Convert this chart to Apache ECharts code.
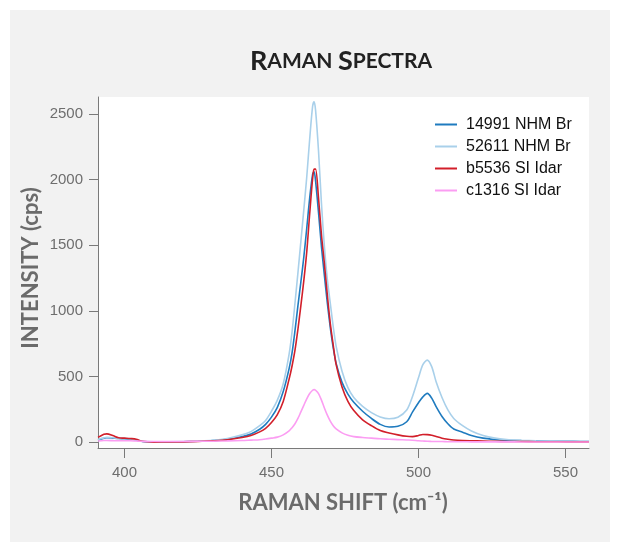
<!DOCTYPE html>
<html>
<head>
<meta charset="utf-8">
<script src="https://cdn.jsdelivr.net/npm/echarts@6/dist/echarts.min.js"></script>
<style>
  html, body { margin: 0; padding: 0; background: #fff; }
  #main { width: 620px; height: 552px; }
</style>
</head>
<body>
<div id="main"></div>
<script>
// raman shift (cm-1), shared by all spectra
const shift = [391, 393, 394, 396, 398, 400, 402, 404, 406, 410, 415, 420, 425, 430, 435, 440, 443, 446, 448, 450,
  452, 454, 456, 457, 458, 459, 460, 461, 462, 463, 464, 464.5, 465, 466, 467, 468, 469, 470, 471, 472,
  474, 476, 478, 481, 484, 487, 490, 493, 496, 498, 500, 501.5, 503, 504.5, 506, 508, 510, 512, 515, 518,
  522, 526, 530, 535, 540, 545, 550, 555, 558];

const nhm14991 = [15, 30, 33, 30, 27, 25, 24, 16, 5, 2, 2, 3, 6, 11, 22, 42, 62, 98, 135, 190,
  265, 385, 560, 680, 850, 1040, 1220, 1410, 1630, 1860, 2040, 2060, 1990, 1750, 1490, 1270, 1060, 875, 720, 600,
  455, 365, 303, 235, 180, 135, 115, 120, 155, 230, 300, 345, 371, 335, 270, 195, 140, 100, 75, 50,
  30, 20, 14, 11, 9, 7, 6, 5, 4];

const nhm52611 = [20, 32, 36, 33, 30, 28, 26, 18, 6, 3, 3, 4, 8, 14, 28, 55, 80, 125, 165, 235,
  320, 445, 670, 840, 1060, 1290, 1530, 1770, 2020, 2310, 2560, 2594, 2530, 2220, 1820, 1490, 1240, 1060, 880, 730,
  540, 415, 340, 272, 225, 192, 178, 190, 244, 350, 490, 590, 625, 575, 460, 340, 245, 180, 125, 85,
  50, 30, 20, 14, 10, 8, 6, 5, 4];

const idar5536 = [36, 60, 63, 50, 33, 30, 27, 22, 6, 0, 1, 2, 5, 10, 18, 35, 50, 78, 105, 150,
  210, 310, 480, 580, 700, 860, 1040, 1230, 1450, 1740, 2010, 2080, 2080, 1860, 1580, 1360, 1120, 905, 740, 590,
  420, 310, 240, 170, 125, 88, 70, 55, 44, 42, 50, 58, 57, 52, 42, 30, 22, 16, 12, 10,
  8, 6, 5, 4, 3, 3, 2, 2, 2];

const idar1316 = [8, 12, 12, 11, 10, 10, 10, 8, 6, 4, 4, 5, 6, 7, 9, 12, 15, 18, 23, 30,
  38, 55, 85, 110, 140, 180, 230, 280, 330, 370, 395, 400, 395, 370, 320, 260, 205, 160, 125, 100,
  70, 52, 42, 35, 30, 25, 22, 19, 16, 14, 10, 8, 6, 5, 4, 4, 3, 3, 3, 2,
  2, 2, 2, 1, 1, 1, 1, 1, 1];

const seriesNames = ['14991 NHM Br', '52611 NHM Br', 'b5536 SI Idar', 'c1316 SI Idar'];
const seriesColors = ['#1f7bbf', '#a9d0ea', '#d21f2a', '#fb9df2'];
const seriesValues = [nhm14991, nhm52611, idar5536, idar1316];

const xTicks = [400, 450, 500, 550];
const yTicks = [0, 500, 1000, 1500, 2000, 2500];

const chart = echarts.init(document.getElementById('main'));

const axisGray = '#7a7a7a';
const labelGray = '#6e6e6e';

const option = {
  backgroundColor: '#fff',
  animation: false,
  graphic: [
    { type: 'rect', z: -10, shape: { x: 10, y: 10, width: 600, height: 532 }, style: { fill: '#f2f2f2' } },
    {
      type: 'text', x: 341, y: 61,
      style: {
        text: '{a|R}{b|AMAN} {a|S}{b|PECTRA}',
        rich: {
          a: { fontSize: 27, fontWeight: 'bold', fontFamily: 'Lato', fill: '#222' },
          b: { fontSize: 21, fontWeight: 'bold', fontFamily: 'Lato', fill: '#222' }
        },
        fill: '#222', fontSize: 21, fontFamily: 'Lato',
        align: 'center', verticalAlign: 'middle'
      }
    },
    {
      type: 'text', x: 343, y: 503,
      style: {
        text: 'RAMAN SHIFT (cm\u207B\u00B9)', fontSize: 22, fontWeight: 'bold', fontFamily: 'Lato',
        fill: '#6b6b6b', align: 'center', verticalAlign: 'middle'
      }
    },
    {
      type: 'text', x: 31, y: 268, rotation: Math.PI / 2,
      style: {
        text: 'INTENSITY (cps)', fontSize: 22, fontWeight: 'bold', fontFamily: 'Lato',
        fill: '#6b6b6b', align: 'center', verticalAlign: 'middle'
      }
    }
  ],
  grid: {
    left: 98, right: 31, top: 97, bottom: 104,
    show: true, backgroundColor: '#fff', borderWidth: 0,
    outerBoundsMode: 'none'
  },
  legend: {
    orient: 'vertical',
    left: 430, top: 111,
    itemWidth: 22, itemHeight: 2, itemGap: 5,
    icon: 'rect',
    data: seriesNames,
    textStyle: { fontSize: 16, fontFamily: 'Liberation Sans', color: '#111', padding: [0, 0, 0, 4], lineHeight: 17 }
  },
  xAxis: {
    type: 'value', min: 391, max: 558,
    splitLine: { show: false },
    axisLine: { onZero: false, lineStyle: { color: axisGray, width: 1 } },
    axisTick: { length: 10, lineStyle: { color: axisGray }, customValues: xTicks },
    axisLabel: { customValues: xTicks, color: labelGray, fontSize: 15, fontFamily: 'Liberation Sans', margin: 17 }
  },
  yAxis: {
    type: 'value', min: -45, max: 2630,
    splitLine: { show: false },
    axisLine: { show: true, lineStyle: { color: axisGray, width: 1 } },
    axisTick: { show: true, length: 9, lineStyle: { color: axisGray }, customValues: yTicks },
    axisLabel: {
      customValues: yTicks, color: labelGray, fontSize: 15, fontFamily: 'Liberation Sans', margin: 15,
      formatter: v => String(v)
    }
  },
  series: seriesNames.map((name, i) => ({
    name: name,
    type: 'line',
    smooth: 0.3,
    symbol: 'none',
    data: shift.map((x, j) => [x, seriesValues[i][j]]),
    lineStyle: { color: seriesColors[i], width: 1.6 },
    itemStyle: { color: seriesColors[i] },
    z: 2 + i
  }))
};

chart.setOption(option);
</script>
</body>
</html>
